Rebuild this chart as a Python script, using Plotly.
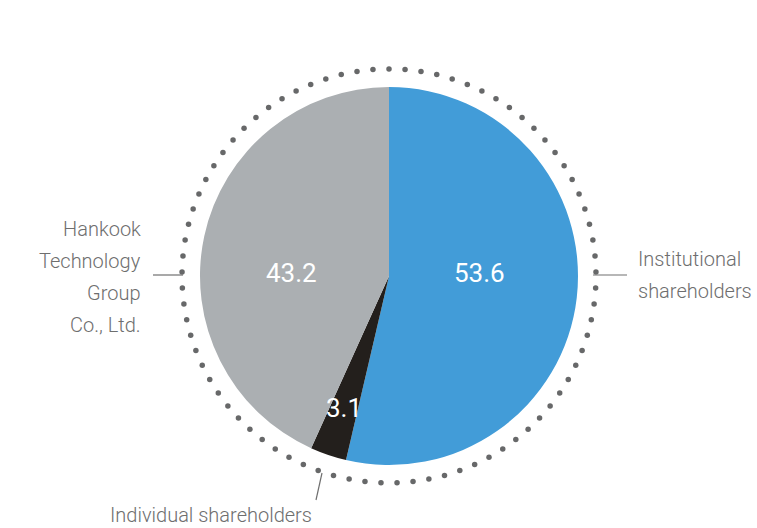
import numpy as np
import plotly.graph_objects as go

# ---- data ----
categories = ["Institutional shareholders", "Individual shareholders", "Hankook Technology Group Co., Ltd."]
values = [53.6, 3.1, 43.2]
value_labels = ["53.6", "3.1", "43.2"]
colors = ["#429cd8", "#231f1c", "#abafb2"]
label_lines = {
    "Institutional shareholders": ["Institutional", "shareholders"],
    "Individual shareholders": ["Individual shareholders"],
    "Hankook Technology Group Co., Ltd.": ["Hankook", "Technology", "Group", "Co., Ltd."],
}

W, H = 757, 528
cx, cy, R = 389, 276, 189      # pie centre / radius in pixels
R_DOT = 207                    # dotted ring radius
N_DOTS = 81

fig = go.Figure()

fig.add_trace(go.Pie(
    labels=categories, values=values, sort=False, direction="clockwise", rotation=0,
    marker=dict(colors=colors, line=dict(width=0)),
    textinfo="none", hoverinfo="label+value", showlegend=False,
    domain=dict(x=[(cx - R) / W, (cx + R) / W], y=[1 - (cy + R) / H, 1 - (cy - R) / H]),
))

# dotted ring (decoration)
th = np.linspace(0, 2 * np.pi, N_DOTS, endpoint=False)
fig.add_trace(go.Scatter(
    x=cx + R_DOT * np.sin(th), y=cy - R_DOT * np.cos(th), mode="markers",
    marker=dict(size=5.5, color="#676869"), hoverinfo="skip", showlegend=False,
))

# value labels inside slices, positioned from slice mid-angles
total = sum(values)
cum = np.cumsum([0] + values[:-1])
radial = [0.48, 0.74, 0.53]
for v, c, lab, rf in zip(values, cum, value_labels, radial):
    mid = 2 * np.pi * (c + v / 2) / total
    x = cx + rf * R * np.sin(mid)
    y = cy - rf * R * np.cos(mid)
    if lab != "3.1":
        y = cy - 3
    fig.add_annotation(x=x, y=y, text=lab, showarrow=False,
                       font=dict(family="Roboto", size=26, color="white"),
                       xanchor="center", yanchor="middle")

label_font = dict(family="Roboto", size=20, color="#6e6e6e", weight=300)

# Institutional label
for i, t in enumerate(label_lines[categories[0]]):
    fig.add_annotation(x=636, y=259 + 32 * i, text=t, showarrow=False, font=label_font,
                       xanchor="left", yanchor="middle")
# Hankook label
for i, t in enumerate(label_lines[categories[2]]):
    fig.add_annotation(x=143, y=229 + 32 * i, text=t, showarrow=False, font=label_font,
                       xanchor="right", yanchor="middle")
# Individual label
fig.add_annotation(x=211, y=515, text=label_lines[categories[1]][0], showarrow=False,
                   font=label_font, xanchor="center", yanchor="middle")

# leader lines
line_style = dict(color="#707070", width=1.2)
fig.add_shape(type="line", x0=593, y0=275, x1=627, y1=275, line=line_style, xref="x", yref="y")
fig.add_shape(type="line", x0=153, y0=275, x1=183, y1=275, line=line_style, xref="x", yref="y")
fig.add_shape(type="line", x0=316, y0=500, x1=322, y1=473, line=line_style, xref="x", yref="y")

fig.update_layout(
    width=W, height=H, margin=dict(l=0, r=0, t=0, b=0),
    paper_bgcolor="white", plot_bgcolor="rgba(0,0,0,0)",
    xaxis=dict(range=[0, W], visible=False, fixedrange=True),
    yaxis=dict(range=[H, 0], visible=False, fixedrange=True),
)

fig.write_html("out.html")
